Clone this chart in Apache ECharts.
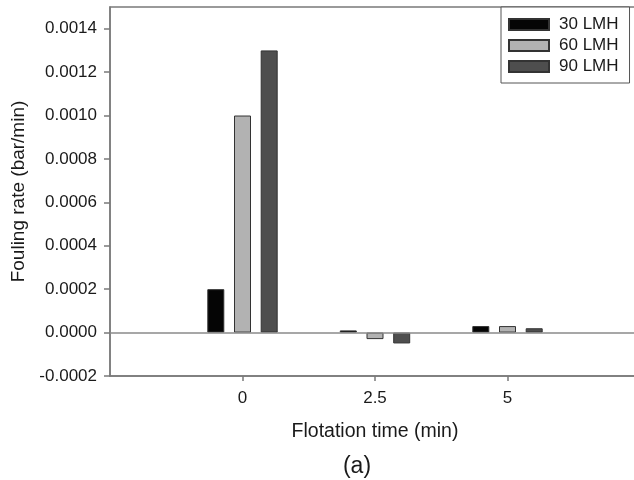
<!DOCTYPE html>
<html>
<head>
<meta charset="utf-8">
<script src="https://cdn.jsdelivr.net/npm/echarts@6/dist/echarts.min.js"></script>
<style>html,body{margin:0;padding:0;background:#fff}#c{width:634px;height:480px}</style>
</head>
<body>
<div id="c"></div>
<script>
var categories = ['', '0', '2.5', '5', ''];
var seriesNames = ['30 LMH', '60 LMH', '90 LMH'];
var lmh30 = [null, 0.0002, 0.00001, 0.00003, null];
var lmh60 = [null, 0.0010, -0.00003, 0.00003, null];
var lmh90 = [null, 0.0013, -0.00005, 0.00002, null];
var yTicks = [-0.0002, 0.0000, 0.0002, 0.0004, 0.0006, 0.0008, 0.0010, 0.0012, 0.0014];

var FONT = '"Liberation Sans", Arial, Helvetica, sans-serif';
var colors = ['#050505', '#b2b2b2', '#4e4e4e'];
var data = [lmh30, lmh60, lmh90];

var chart = echarts.init(document.getElementById('c'), null, {renderer: 'canvas'});
var series = seriesNames.map(function (n, i) {
  var s = {
    name: n,
    type: 'bar',
    data: data[i],
    barWidth: 17,
    barGap: '57%',
    itemStyle: {color: colors[i], borderColor: '#333', borderWidth: 1},
    emphasis: {disabled: true},
    animation: false
  };
  if (i === 0) {
    s.markLine = {
      silent: true,
      symbol: ['none', 'none'],
      label: {show: false},
      lineStyle: {color: '#8a8a8a', width: 1.5, type: 'solid'},
      data: [{yAxis: 0}],
      animation: false
    };
  }
  return s;
});

chart.setOption({
  animation: false,
  backgroundColor: '#fff',
  textStyle: {fontFamily: FONT},
  grid: {left: 110, top: 7, width: 530, height: 369, show: true, borderColor: '#7a7a7a', borderWidth: 1.5, backgroundColor: 'transparent', containLabel: false, outerBoundsMode: 'none'},
  legend: {
    data: seriesNames,
    orient: 'vertical',
    left: 501,
    top: 7,
    padding: [7, 11, 6, 7],
    itemWidth: 40,
    itemHeight: 11,
    itemGap: 0,
    backgroundColor: '#fff',
    borderColor: '#555',
    borderWidth: 1,
    textStyle: {fontFamily: FONT, fontSize: 17, lineHeight: 21, color: '#1a1a1a', padding: [0, 0, 0, 5]},
    icon: 'rect'
  },
  xAxis: {
    type: 'category',
    data: categories,
    boundaryGap: false,
    name: 'Flotation time (min)',
    nameLocation: 'middle',
    nameGap: 46,
    nameTextStyle: {fontFamily: FONT, fontSize: 19.5, color: '#1a1a1a'},
    axisLine: {onZero: false, lineStyle: {color: '#7a7a7a', width: 1.5}},
    axisTick: {show: true, length: 5, inside: false, lineStyle: {color: '#7a7a7a', width: 1.5},
      interval: function (idx) { return categories[idx] !== ''; }},
    axisLabel: {fontFamily: FONT, fontSize: 17, color: '#1a1a1a', margin: 14, interval: 0},
    splitLine: {show: false}
  },
  yAxis: {
    type: 'value',
    min: -0.0002,
    max: 0.0015,
    interval: 0.0002,
    name: 'Fouling rate (bar/min)',
    nameLocation: 'middle',
    nameRotate: 90,
    nameGap: 81,
    nameTextStyle: {fontFamily: FONT, fontSize: 19, color: '#1a1a1a'},
    axisLine: {show: true, lineStyle: {color: '#7a7a7a', width: 1.5}},
    axisTick: {show: true, length: 6, inside: false, lineStyle: {color: '#7a7a7a', width: 1.5}},
    axisLabel: {fontFamily: FONT, fontSize: 17, color: '#1a1a1a', margin: 13,
      showMaxLabel: false,
      formatter: function (v) {
        for (var k = 0; k < yTicks.length; k++) {
          if (Math.abs(yTicks[k] - v) < 1e-9) return yTicks[k].toFixed(4);
        }
        return '';
      }},
    splitLine: {show: false}
  },
  graphic: [{
    type: 'text',
    x: 357,
    y: 467,
    style: {text: '(a)', font: '23px ' + FONT, fill: '#1a1a1a', textAlign: 'center', textVerticalAlign: 'middle'}
  }],
  series: series
});
</script>
</body>
</html>
